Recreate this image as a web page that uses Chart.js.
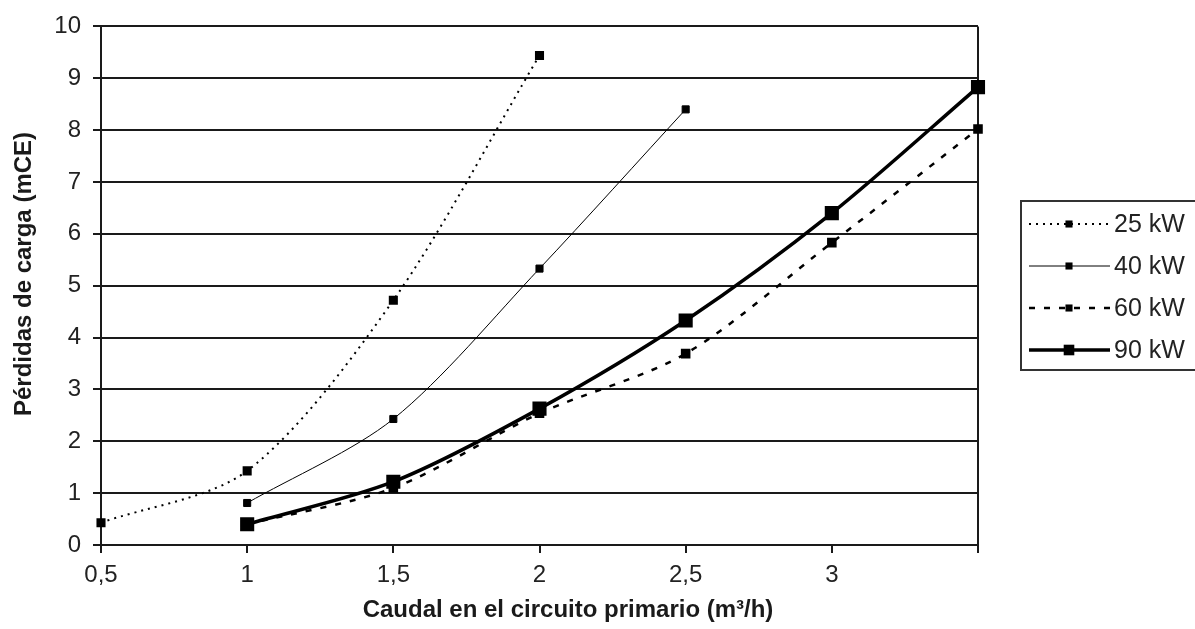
<!DOCTYPE html>
<html>
<head>
<meta charset="utf-8">
<script src="https://cdn.jsdelivr.net/npm/chart.js@4/dist/chart.umd.min.js"></script>
<style>
  html, body { margin: 0; padding: 0; background: #fff; }
  #wrap { width: 1195px; height: 629px; }
</style>
</head>
<body>
<div id="wrap"><canvas id="lossChart" width="1195" height="629"></canvas></div>
<script>
// Series names
var seriesNames = ['25 kW', '40 kW', '60 kW', '90 kW'];

// Flow (m3/h) and head loss (mCE) per boiler size
var flow25 = [0.5, 1, 1.5, 2];
var loss25 = [0.43, 1.43, 4.72, 9.44];

var flow40 = [1, 1.5, 2, 2.5];
var loss40 = [0.81, 2.43, 5.33, 8.4];

var flow60 = [1, 1.5, 2, 2.5, 3, 3.5];
var loss60 = [0.4, 1.1, 2.54, 3.69, 5.83, 8.02];

var flow90 = [1, 1.5, 2, 2.5, 3, 3.5];
var loss90 = [0.4, 1.22, 2.63, 4.33, 6.4, 8.83];

// Axis tick labels (3.5 has no label in the original)
var xTickLabels = { 0.5: '0,5', 1: '1', 1.5: '1,5', 2: '2', 2.5: '2,5', 3: '3', 3.5: '' };

var xTitle = 'Caudal en el circuito primario (m³/h)';
var yTitle = 'Pérdidas de carga (mCE)';

function toPoints(xs, ys) {
    return xs.map(function (x, i) { return { x: x, y: ys[i] }; });
}

var tickFont = { family: "'Liberation Sans Narrow', 'Liberation Sans', Arial, sans-serif", size: 24 };

// Legend box + axis titles drawn on top of the chart
var legendAndTitles = {
    id: 'legendAndTitles',
    afterDraw: function (chart) {
        var ctx = chart.ctx;
        ctx.save();

        // axis titles
        ctx.fillStyle = '#1a1a1a';
        ctx.font = "bold 24px 'Liberation Sans Narrow', 'Liberation Sans', Arial, sans-serif";
        ctx.textAlign = 'center';
        ctx.textBaseline = 'middle';
        ctx.fillText(xTitle, 568, 610);
        ctx.translate(24, 274);
        ctx.rotate(-Math.PI / 2);
        ctx.fillText(yTitle, 0, 0);
        ctx.setTransform(1, 0, 0, 1, 0, 0);

        // legend frame
        ctx.strokeStyle = '#333';
        ctx.lineWidth = 2;
        ctx.strokeRect(1021, 201, 200, 169);

        chart.data.datasets.forEach(function (ds, i) {
            var y = 224 + i * 42;
            ctx.strokeStyle = ds.borderColor;
            ctx.lineWidth = ds.borderWidth;
            ctx.setLineDash(ds.borderDash || []);
            ctx.beginPath();
            ctx.moveTo(1029, y);
            ctx.lineTo(1110, y);
            ctx.stroke();
            ctx.setLineDash([]);
            var s = ds.pointRadius * Math.SQRT1_2;
            ctx.fillStyle = ds.pointBackgroundColor;
            ctx.fillRect(1069 - s, y - s, 2 * s, 2 * s);
            ctx.fillStyle = '#222';
            ctx.font = "25px 'Liberation Sans', Arial, sans-serif";
            ctx.textAlign = 'left';
            ctx.textBaseline = 'middle';
            ctx.fillText(ds.label, 1114, y + 1);
        });
        ctx.restore();
    }
};

var ctxLoss = document.getElementById('lossChart').getContext('2d');
var lossChart = new Chart(ctxLoss, {
    type: 'line',
    data: {
        datasets: [{
            label: seriesNames[0],
            data: toPoints(flow25, loss25),
            borderColor: '#000',
            borderWidth: 2,
            borderDash: [2, 5],
            pointRadius: 5,
            pointBackgroundColor: '#000'
        }, {
            label: seriesNames[1],
            data: toPoints(flow40, loss40),
            borderColor: '#000',
            borderWidth: 1,
            pointRadius: 5,
            pointBackgroundColor: '#000'
        }, {
            label: seriesNames[2],
            data: toPoints(flow60, loss60),
            borderColor: '#000',
            borderWidth: 2.5,
            borderDash: [6, 9],
            pointRadius: 5,
            pointBackgroundColor: '#000'
        }, {
            label: seriesNames[3],
            data: toPoints(flow90, loss90),
            borderColor: '#000',
            borderWidth: 3.5,
            pointRadius: 7.5,
            pointBackgroundColor: '#000'
        }]
    },
    options: {
        responsive: false,
        animation: false,
        clip: false,
        layout: { padding: { top: 25, right: 217, bottom: 0, left: 0 } },
        elements: {
            line: { tension: 0.3, fill: false },
            point: { pointStyle: 'rect', borderWidth: 0, hoverRadius: 5 }
        },
        plugins: {
            legend: { display: false },
            tooltip: { enabled: false }
        },
        scales: {
            x: {
                type: 'linear',
                min: 0.5,
                max: 3.5,
                afterFit: function (scale) { scale.height = 84; },
                ticks: {
                    stepSize: 0.5,
                    padding: 8,
                    color: '#222',
                    font: tickFont,
                    maxRotation: 0,
                    callback: function (v) { return xTickLabels[v] !== undefined ? xTickLabels[v] : ''; }
                },
                grid: {
                    color: function (c) { return c.tick && c.tick.value === 3.5 ? '#1a1a1a' : 'rgba(0,0,0,0)'; },
                    lineWidth: 2,
                    tickColor: '#1a1a1a',
                    tickLength: 8
                },
                border: { display: true, color: '#1a1a1a', width: 2 }
            },
            y: {
                min: 0,
                max: 10,
                afterFit: function (scale) { scale.width = 101; },
                ticks: {
                    stepSize: 1,
                    padding: 12,
                    color: '#222',
                    font: tickFont
                },
                grid: {
                    color: '#1a1a1a',
                    lineWidth: 2,
                    tickColor: '#1a1a1a',
                    tickLength: 8
                },
                border: { display: true, color: '#1a1a1a', width: 2 }
            }
        }
    },
    plugins: [legendAndTitles]
});
</script>
</body>
</html>
